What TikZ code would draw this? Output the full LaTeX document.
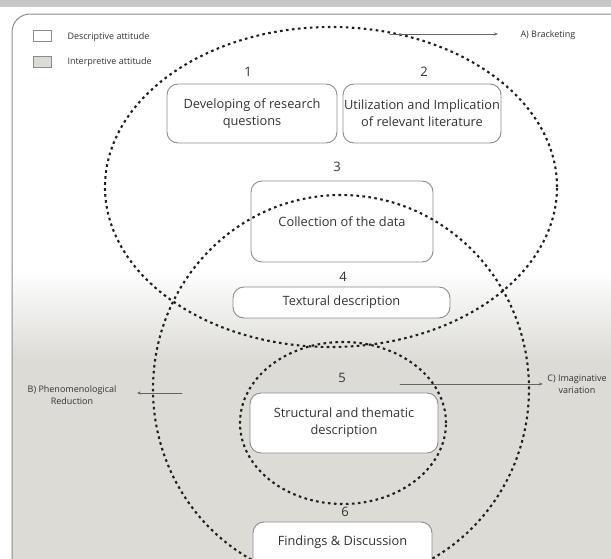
\documentclass[tikz,border=0pt]{standalone}
\usepackage{fontspec}
\setmainfont{Open Sans}
\usetikzlibrary{arrows.meta}
\definecolor{bggray}{HTML}{DCDBD6}
\definecolor{boxline}{HTML}{8C8C8C}
\definecolor{inkgray}{HTML}{333333}

\begin{document}
\begin{tikzpicture}[x=1pt,y=-1pt,>={Stealth[length=4pt,width=3pt]},line cap=round,
  stagebox/.style={draw=boxline,line width=0.9pt,fill=white,rounded corners=11pt,align=center,inner sep=0pt,font=\fontsize{12.8}{17}\selectfont,text=inkgray},
  stagenum/.style={font=\fontsize{13}{15}\selectfont,text=inkgray},
  phase/.style={draw=black!88,line width=2.1pt,line cap=butt,dash pattern=on 2.6pt off 3.4pt},
  sidenote/.style={font=\fontsize{9}{11.5}\selectfont,text=inkgray,align=center},
  keybox/.style={draw=boxline,line width=0.8pt,minimum width=18pt,minimum height=11pt,inner sep=0pt},
  pointer/.style={->,draw=black!60,line width=0.7pt}]
\useasboundingbox (0,0) rectangle (611,558);
\begin{scope}
\clip[rounded corners=18pt] (12,14) rectangle (640,590);
\fill[bggray] (0,0) rectangle (640,590);
\fill[white] (0,0) rectangle (640,270);
\shade[top color=white,bottom color=bggray] (0,269.5) rectangle (640,360);
\end{scope}
\draw[boxline,line width=1pt,rounded corners=18pt] (12,14) rectangle (640,590);
\fill[black!22] (0,0) rectangle (611,7);

\node[keybox,fill=white] (desckey) at (42,36) {};
\node[sidenote,anchor=west] (desctext) at (64,37.5) {Descriptive attitude};
\node[keybox,fill=bggray] (interpkey) at (42,62) {};
\node[sidenote,anchor=west] (interptext) at (64,62) {Interpretive attitude};

\node[stagenum] (n1) at (248,72) {1};
\node[stagebox,minimum width=170pt,minimum height=59pt] (quest) at (252,113.5) {Developing of research\\questions};
\node[stagenum] (n2) at (424,72) {2};
\node[stagebox,minimum width=158pt,minimum height=59pt] (lit) at (422,113.5) {Utilization and Implication\\of relevant literature};
\node[stagenum] (n3) at (337,167) {3};
\node[stagebox,minimum width=182pt,minimum height=81pt] (collect) at (342,221.5) {Collection of the data};
\node[stagenum] (n4) at (343,277) {4};
\node[stagebox,minimum width=217pt,minimum height=31pt] (textural) at (341.5,302.5) {Textural description};
\node[stagenum] (n5) at (342,378) {5};
\node[stagebox,minimum width=188pt,minimum height=60pt] (structural) at (344,423) {Structural and thematic\\description};
\node[stagenum] (n6) at (345,512) {6};
\node[stagebox,minimum width=179pt,text height=23pt,text depth=35pt] (findings) at (342.5,551) {Findings \& Discussion};

\draw[phase] (331,187) ellipse [x radius=226pt,y radius=160pt];
\draw[phase] (341,389) ellipse [x radius=188pt,y radius=194pt];
\draw[phase] (343,423) ellipse [x radius=103pt,y radius=81pt];

\node[sidenote,anchor=west] (bracket) at (517,35) {A) Bracketing};
\coordinate (bracketfrom) at (390,34);
\draw[pointer,shorten >=19pt] (bracketfrom) -- (bracketfrom -| bracket.west);
\node[sidenote] (reduction) at (72,395) {B) Phenomenological\\Reduction};
\coordinate (reductionfrom) at (182,393);
\draw[pointer,shorten >=17pt] (reductionfrom) -- (reductionfrom -| reduction.east);
\node[sidenote] (variation) at (577,384) {C) Imaginative\\variation};
\coordinate (variationfrom) at (400,384);
\draw[pointer,shorten >=1pt] (variationfrom) -- (variationfrom -| variation.west);
\end{tikzpicture}
\end{document}
